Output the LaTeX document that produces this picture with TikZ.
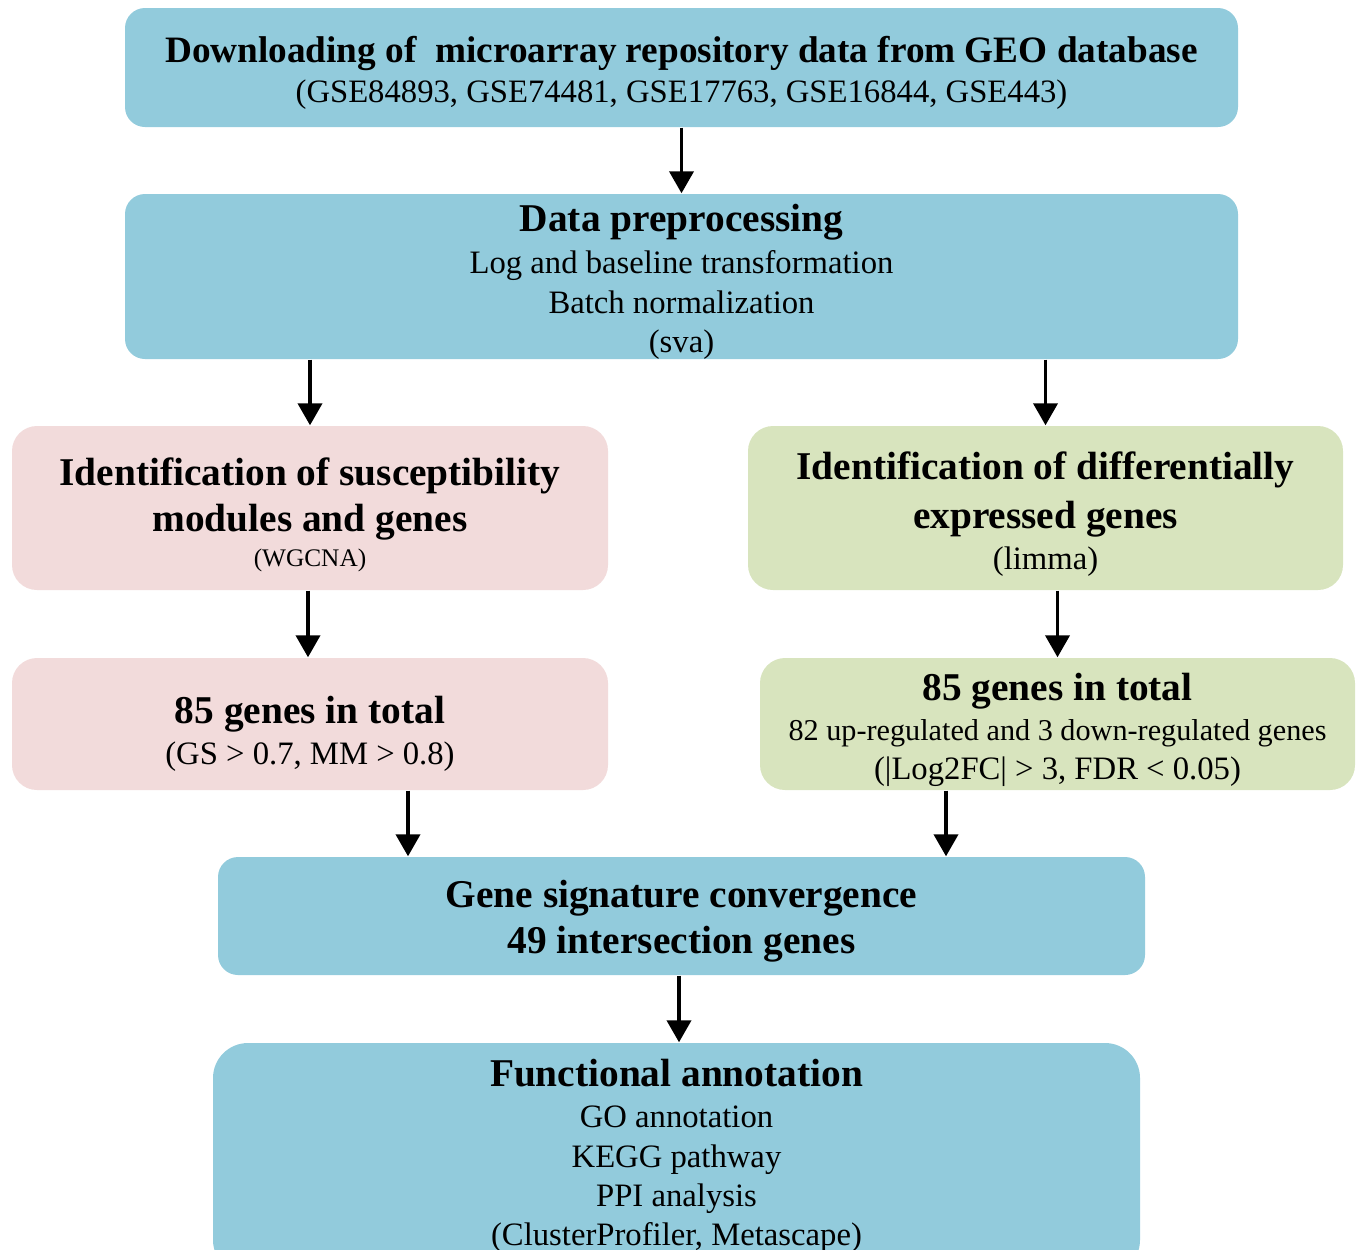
\documentclass[tikz,border=0pt]{standalone}
\usepackage{fontspec}
\setmainfont{Liberation Serif}
\usetikzlibrary{arrows.meta}
\definecolor{boxblue}{HTML}{92CBDC}
\definecolor{boxpink}{HTML}{F2DBDB}
\definecolor{boxgreen}{HTML}{D8E4BE}
\newcommand{\headfont}{\fontsize{11.2}{13.4}\selectfont\bfseries}

\begin{document}
\begin{tikzpicture}
\tikzstyle{every node}=[font=\fontsize{9.3}{11.2}\selectfont]
\tikzstyle{box}=[rounded corners=0.2cm, inner sep=0pt]
\tikzstyle{flow}=[-{Triangle[length=0.22cm,width=0.24cm]}, line width=1.1pt]
\useasboundingbox (0,0) rectangle (13.57,-12.49);

% boxes, text is put on the centre of each box
\node[box, fill=boxblue, minimum width=11.13cm, minimum height=1.19cm,
  label={[align=center, yshift=-0.05cm]center:{{\fontsize{10.6}{12.7}\selectfont\bfseries Downloading of \ microarray repository data from GEO database}\\[0.15pt]
   {(GSE84893, GSE74481, GSE17763, GSE16844, GSE443)}}}] (dl) at (6.815,-0.675) {};
\node[box, fill=boxblue, minimum width=11.13cm, minimum height=1.65cm,
  label={[align=center, yshift=-0.055cm]center:{{\headfont Data preprocessing}\\[0.75pt]
   {Log and baseline transformation}\\
   {Batch normalization}\\
   {(sva)}}}] (pre) at (6.815,-2.765) {};
\node[box, rounded corners=0.25cm, fill=boxpink, minimum width=5.96cm, minimum height=1.64cm,
  label={[align=center, yshift=-0.07cm]center:{{\headfont Identification of susceptibility}\\[2pt]
   {\headfont modules and genes}\\[-1.25pt]
   {\fontsize{7.2}{8.6}\selectfont (WGCNA)}}}] (wgc) at (3.10,-5.08) {};
\node[box, rounded corners=0.25cm, fill=boxgreen, minimum width=5.95cm, minimum height=1.64cm,
  label={[align=center, yshift=-0.065cm]center:{{\headfont Identification of differentially}\\[2.75pt]
   {\headfont expressed genes}\\[0.45pt]
   {(limma)}}}] (deg) at (10.455,-5.08) {};
\node[box, rounded corners=0.25cm, fill=boxpink, minimum width=5.96cm, minimum height=1.32cm,
  label={[align=center, yshift=-0.10cm]center:{{\headfont 85 genes in total}\\[0.45pt]
   {(GS > 0.7, MM > 0.8)}}}] (wtot) at (3.10,-7.24) {};
\node[box, rounded corners=0.25cm, fill=boxgreen, minimum width=5.95cm, minimum height=1.32cm,
  label={[align=center, yshift=-0.06cm]center:{{\headfont 85 genes in total}\\[0.15pt]
   {\fontsize{8.6}{10.4}\selectfont 82 up-regulated and 3 down-regulated genes}\\[-0.15pt]
   {(|Log2FC| > 3, FDR < 0.05)}}}] (dtot) at (10.575,-7.24) {};
\node[box, fill=boxblue, minimum width=9.27cm, minimum height=1.18cm,
  label={[align=center, yshift=-0.055cm]center:{{\headfont Gene signature convergence}\\[1.9pt]
   {\headfont 49 intersection genes}}}] (conv) at (6.815,-9.16) {};
\node[box, rounded corners=0.35cm, fill=boxblue, minimum width=9.27cm, minimum height=2.32cm,
  label={[align=center, yshift=0.03cm]center:{{\headfont Functional annotation}\\[0.45pt]
   {GO annotation}\\
   {KEGG pathway}\\
   {PPI analysis}\\
   {(ClusterProfiler, Metascape)}}}] (func) at (6.765,-11.59) {};

\draw[flow] (dl) -- (pre);
\draw[flow] (pre.south -| wgc) -- (wgc);
\draw[flow] (pre.south -| deg) -- (deg);
\draw[flow] (wgc.south -| 3.08,0) -- (wtot.north -| 3.08,0);
\draw[flow] (deg.south -| dtot) -- (dtot);
\draw[flow] (wtot.south -| 4.08,0) -- (conv.north -| 4.08,0);
\draw[flow] (dtot.south -| 9.46,0) -- (conv.north -| 9.46,0);
\draw[flow] (conv.south -| 6.79,0) -- (func.north -| 6.79,0);
\end{tikzpicture}
\end{document}
